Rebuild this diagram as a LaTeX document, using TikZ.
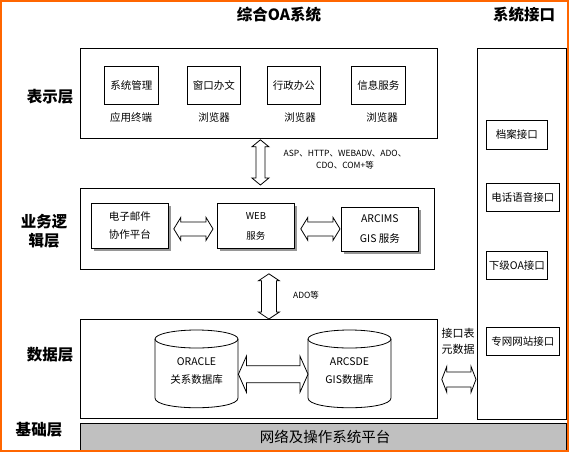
\documentclass[tikz,border=0pt]{standalone}
\usepackage{fontspec}
\setmainfont{Noto Sans CJK SC}
\usetikzlibrary{calc,shadows}
\definecolor{frameorange}{RGB}{255,102,0}
\definecolor{basegray}{RGB}{192,192,192}
\definecolor{shadowgray}{RGB}{150,150,150}
\tikzset{
  lw/.style={line width=0.8pt},
  box/.style={draw, lw, fill=white, inner sep=0pt, anchor=north west},
  shbox/.style={box, drop shadow={shadow xshift=3pt, shadow yshift=-3pt, fill=shadowgray, opacity=1}},
  txt/.style={font=\fontsize{10.5}{18}\selectfont, inner sep=0pt, align=center},
  small/.style={font=\fontsize{8.5}{12}\selectfont, inner sep=0pt, align=center},
  ttl/.style={font=\fontsize{15.5}{18}\selectfont\bfseries, inner sep=0pt, align=center},
  blk/.style={draw, lw, fill=white, line join=miter},
}
\newcommand{\hdarrow}[5]{%
  \draw[blk] let \p1=(#1), \p2=(#2) in
  (\x1,\y1) -- (\x1+#5pt,\y1+#4pt) -- (\x1+#5pt,\y1+#3pt) -- (\x2-#5pt,\y1+#3pt)
  -- (\x2-#5pt,\y1+#4pt) -- (\x2,\y1) -- (\x2-#5pt,\y1-#4pt) -- (\x2-#5pt,\y1-#3pt)
  -- (\x1+#5pt,\y1-#3pt) -- (\x1+#5pt,\y1-#4pt) -- cycle;}
\newcommand{\vdarrow}[5]{%
  \draw[blk] let \p1=(#1), \p2=(#2) in
  (\x1,\y1) -- (\x1+#4pt,\y1-#5pt) -- (\x1+#3pt,\y1-#5pt) -- (\x1+#3pt,\y2+#5pt)
  -- (\x1+#4pt,\y2+#5pt) -- (\x1,\y2) -- (\x1-#4pt,\y2+#5pt) -- (\x1-#3pt,\y2+#5pt)
  -- (\x1-#3pt,\y1-#5pt) -- (\x1-#4pt,\y1-#5pt) -- cycle;}
\begin{document}
\begin{tikzpicture}[x=1pt,y=-1pt]
\useasboundingbox (0,0) rectangle (569,452);
\fill[white] (0,0) rectangle (569,452);

% titles
\node[ttl] (t1) at (279,15) {综合OA系统};
\node[ttl] (t2) at (524,15) {系统接口};

% layer labels
\node[ttl] (l1) at (50,97) {表示层};
\node[ttl, font=\fontsize{15.5}{19}\selectfont\bfseries] (l2) at (44,231) {业务逻\\辑层};
\node[ttl] (l3) at (50,355) {数据层};
\node[ttl] (l4) at (39,430) {基础层};

% presentation layer
\node[box, minimum width=357, minimum height=90] (pres) at (80,48) {};
\node[box, minimum width=54, minimum height=38] (p1) at (104,66) {};
\node[box, minimum width=53, minimum height=38] (p2) at (187,66) {};
\node[box, minimum width=53, minimum height=38] (p3) at (267,66) {};
\node[box, minimum width=54, minimum height=38] (p4) at (351,66) {};
\node[txt] at (p1.center) {系统管理};
\node[txt] at (p2.center) {窗口办文};
\node[txt] at (p3.center) {行政办公};
\node[txt] at (p4.center) {信息服务};
\node[txt] (c1) at (131,118) {应用终端};
\node[txt] (c2) at (214,118) {浏览器};
\node[txt] (c3) at (300,118) {浏览器};
\node[txt] (c4) at (382,118) {浏览器};

% business layer
\node[box, minimum width=354, minimum height=81] (bus) at (80,188) {};
\node[shbox, minimum width=77, minimum height=45] (mail) at (91,203) {};
\node[shbox, minimum width=77, minimum height=45] (web) at (217,203) {};
\node[shbox, minimum width=77, minimum height=44] (arc) at (341,207) {};
\node[txt] at (mail.center) {电子邮件\\协作平台};
\node[txt, font=\fontsize{9.5}{20}\selectfont] at (web.center) {WEB\\服务};
\node[txt, font=\fontsize{10.5}{20}\selectfont] at (arc.center) {ARCIMS\\GIS 服务};

% data layer
\node[box, minimum width=357, minimum height=99] (data) at (80,319) {};
\node[inner sep=0, minimum width=83, minimum height=78, anchor=north west] (ora) at (155,330) {};
\node[inner sep=0, minimum width=83, minimum height=78, anchor=north west] (sde) at (308,330) {};
\foreach \cx in {196.5,349.5}{
  \draw[lw, fill=white] (\cx-41.5,339) -- (\cx-41.5,398) .. controls (\cx-41.5,411) and (\cx+41.5,411) .. (\cx+41.5,398) -- (\cx+41.5,339);
  \draw[lw] (\cx,339) ellipse [x radius=41.5, y radius=9];
}
\node[txt] at (196.5,371.5) {ORACLE\\关系数据库};
\node[txt] at (349.5,371.5) {ARCSDE\\GIS数据库};

% interface column
\node[box, minimum width=89, minimum height=371] (iface) at (477,48) {};
\node[box, minimum width=61, minimum height=29] (i1) at (486,120) {};
\node[box, minimum width=73, minimum height=28] (i2) at (486,183) {};
\node[box, minimum width=61, minimum height=28] (i3) at (486,251) {};
\node[box, minimum width=73, minimum height=28] (i4) at (486,327) {};
\node[txt] at (i1.center) {档案接口};
\node[txt] at (i2.center) {电话语音接口};
\node[txt] at (i3.center) {下级OA接口};
\node[txt] at (i4.center) {专网网站接口};
\node[txt, font=\fontsize{11}{16}\selectfont] (meta) at (458,341) {接口表\\元数据};

% base layer
\node[box, fill=basegray, minimum width=486, minimum height=27] (base) at (80,423) {};
\node[inner sep=0, font=\fontsize{14.5}{16}\selectfont] at (325,436.5) {网络及操作系统平台};

% arrows
\vdarrow{$(pres.south)+(1.5,1)$}{$(bus.north)+(3,-3)$}{4.5}{8.5}{7}
\node[small] (proto) at (345,160) {ASP、HTTP、WEBADV、ADO、\\CDO、COM+等};
\vdarrow{$(bus.south)+(11.5,4)$}{$(data.north)$}{7.5}{10.5}{7}
\node[small] (ado) at (306,295) {ADO等};
\hdarrow{$(mail.east)+(5,3)$}{$(web.west)+(-4,3)$}{7}{11.5}{7}
\hdarrow{$(web.east)+(6,3)$}{$(arc.west)+(-1,3)$}{7}{11.5}{7}
\hdarrow{$(ora.east)+(0,5)$}{$(sde.west)+(0,5)$}{8.5}{18}{8}
\hdarrow{$(data.east)+(4,10.5)$}{$(iface.west)+(-1,0)$}{7.5}{13}{5}

% outer frame
\draw[frameorange, line width=1.6pt] (0.8,0.8) rectangle (568.2,451.2);
\end{tikzpicture}
\end{document}
